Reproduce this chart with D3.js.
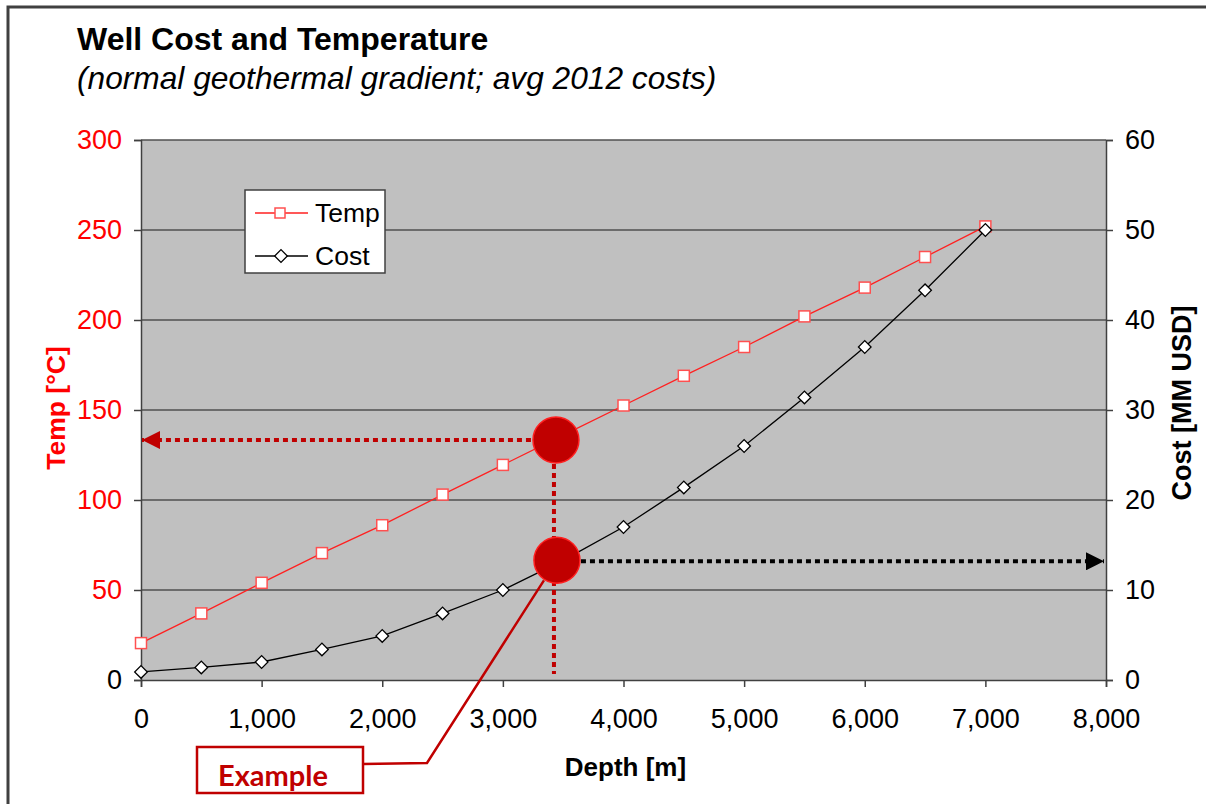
<!DOCTYPE html>
<html><head><meta charset="utf-8">
<script src="https://cdn.jsdelivr.net/npm/d3@7"></script>
<style>body{margin:0;background:#fff}svg{display:block}</style>
</head><body>
<svg id="c" width="1206" height="804"></svg>
<script>
const depths = [0,500,1000,1500,2000,2500,3000,3500,4000,4500,5000,5500,6000,6500,7000];
const temp = [20.5,37,54,70.5,86,103,119.5,136,152.5,169,185,202,218,235,252];
const cost = [0.9,1.4,2.0,3.4,4.9,7.4,10.0,13.3,17.0,21.4,26.0,31.4,37.0,43.3,50.0];
const xTicks = [0,1000,2000,3000,4000,5000,6000,7000,8000];
const tempTicks = [0,50,100,150,200,250,300];
const costTicks = [0,10,20,30,40,50,60];
const exampleDepth = 3440, exampleTemp = 133.3, exampleCost = 13.3;

const svg = d3.select("#c");
const L=141, R=1106, T=140, B=680;
const x = d3.scaleLinear().domain([0,8000]).range([L,R]);
const yT = d3.scaleLinear().domain([0,300]).range([B,T]);
const yC = d3.scaleLinear().domain([0,60]).range([B,T]);
const font = "'Liberation Sans', Arial, sans-serif";

// outer frame
svg.append("rect").attr("x",8).attr("y",7).attr("width",1210).attr("height",820)
  .attr("fill","none").attr("stroke","#404040").attr("stroke-width",3);

svg.append("text").attr("x",77).attr("y",50).attr("font-family",font).attr("font-weight","bold")
  .attr("font-size",32).attr("fill","#000").text("Well Cost and Temperature");
svg.append("text").attr("x",77).attr("y",89).attr("font-family",font).attr("font-style","italic")
  .attr("font-size",31.7).attr("fill","#000").text("(normal geothermal gradient; avg 2012 costs)");

// plot bg
svg.append("rect").attr("x",L).attr("y",T).attr("width",R-L).attr("height",B-T).attr("fill","#c0c0c0");
// gridlines
svg.append("g").selectAll("line").data(tempTicks.slice(1)).join("line")
  .attr("x1",L).attr("x2",R).attr("y1",d=>yT(d)).attr("y2",d=>yT(d))
  .attr("stroke","#505050").attr("stroke-width",1.5);

// axes
function styleAxis(g, col){
  g.selectAll(".domain").attr("stroke","#404040").attr("stroke-width",1.5);
  g.selectAll(".tick line").attr("stroke","#404040").attr("stroke-width",1.5);
  g.selectAll("text").attr("font-family",font).attr("font-size",27).attr("fill",col);
}
const gx = svg.append("g").attr("transform",`translate(0,${B})`)
  .call(d3.axisBottom(x).tickValues(xTicks).tickFormat(d3.format(",")).tickSizeOuter(0).tickSize(7).tickPadding(22));
styleAxis(gx,"#000");
const gl = svg.append("g").attr("transform",`translate(${L},0)`)
  .call(d3.axisLeft(yT).tickValues(tempTicks).tickSizeOuter(0).tickSize(7).tickPadding(12));
styleAxis(gl,"#ff0000");
gl.selectAll(".tick text").filter(d=>d===0).attr("fill","#000");
const gr = svg.append("g").attr("transform",`translate(${R},0)`)
  .call(d3.axisRight(yC).tickValues(costTicks).tickSizeOuter(0).tickSize(7).tickPadding(12));
styleAxis(gr,"#000");

// axis titles
svg.append("text").attr("x",x(4000)+2).attr("y",776).attr("text-anchor","middle")
  .attr("font-family",font).attr("font-weight","bold").attr("font-size",26).text("Depth [m]");
svg.append("text").attr("transform",`translate(65,${408}) rotate(-90)`).attr("text-anchor","middle")
  .attr("font-family",font).attr("font-weight","bold").attr("font-size",26.5).attr("fill","#ff0000").text("Temp [°C]");
svg.append("text").attr("transform",`translate(1191,${403}) rotate(-90)`).attr("text-anchor","middle")
  .attr("font-family",font).attr("font-weight","bold").attr("font-size",27).attr("fill","#000").text("Cost [MM USD]");

// series
const lineT = d3.line().x((d,i)=>x(depths[i])).y(d=>yT(d));
const lineC = d3.line().x((d,i)=>x(depths[i])).y(d=>yC(d));
svg.append("path").attr("d",lineT(temp)).attr("fill","none").attr("stroke","#ff2020").attr("stroke-width",1.3);
svg.append("path").attr("d",lineC(cost)).attr("fill","none").attr("stroke","#000").attr("stroke-width",1.3);
svg.append("g").selectAll("rect").data(temp).join("rect")
  .attr("x",(d,i)=>x(depths[i])-5.5).attr("y",d=>yT(d)-5.5).attr("width",11).attr("height",11)
  .attr("fill","#fff").attr("stroke","#ff5050").attr("stroke-width",1.5);
const dsym = d3.symbol().type(d3.symbolSquare).size(80);
svg.append("g").selectAll("path").data(cost).join("path")
  .attr("d",dsym).attr("transform",(d,i)=>`translate(${x(depths[i])},${yC(d)}) rotate(45)`)
  .attr("fill","#fff").attr("stroke","#000").attr("stroke-width",1.3);

// legend
const lg = svg.append("g");
lg.append("rect").attr("x",245).attr("y",190).attr("width",140).attr("height",83)
  .attr("fill","#fff").attr("stroke","#404040").attr("stroke-width",1.5);
lg.append("line").attr("x1",255).attr("x2",308).attr("y1",213).attr("y2",213).attr("stroke","#ff2020").attr("stroke-width",1.3);
lg.append("rect").attr("x",275).attr("y",208).attr("width",10).attr("height",10).attr("fill","#fff").attr("stroke","#ff5050").attr("stroke-width",1.5);
lg.append("line").attr("x1",255).attr("x2",308).attr("y1",256).attr("y2",256).attr("stroke","#000").attr("stroke-width",1.3);
lg.append("path").attr("d",dsym).attr("transform","translate(281,256) rotate(45)").attr("fill","#fff").attr("stroke","#000").attr("stroke-width",1.3);
lg.append("text").attr("x",315).attr("y",222).attr("font-family",font).attr("font-size",26.5).text("Temp");
lg.append("text").attr("x",315).attr("y",265).attr("font-family",font).attr("font-size",26.5).text("Cost");

// annotations
const dark = "#c00000";
const defs = svg.append("defs");
defs.append("marker").attr("id","arR").attr("viewBox","0 0 10 10").attr("refX",10).attr("refY",5)
  .attr("markerWidth",4.5).attr("markerHeight",4.5).attr("orient","auto").attr("markerUnits","strokeWidth")
  .append("path").attr("d","M0,0L10,5L0,10z").attr("fill",dark);
defs.append("marker").attr("id","arB").attr("viewBox","0 0 10 10").attr("refX",10).attr("refY",5)
  .attr("markerWidth",4.5).attr("markerHeight",4.5).attr("orient","auto").attr("markerUnits","strokeWidth")
  .append("path").attr("d","M0,0L10,5L0,10z").attr("fill","#000");
const ex = x(exampleDepth);
svg.append("line").attr("x1",ex-25).attr("x2",L+1).attr("y1",yT(exampleTemp)).attr("y2",yT(exampleTemp))
  .attr("stroke",dark).attr("stroke-width",4).attr("stroke-dasharray","5,4").attr("marker-end","url(#arR)");
svg.append("line").attr("x1",ex-2).attr("x2",ex-2).attr("y1",yT(exampleTemp)+24).attr("y2",B-6)
  .attr("stroke",dark).attr("stroke-width",4).attr("stroke-dasharray","5,4");
svg.append("line").attr("x1",ex+25).attr("x2",R-2).attr("y1",yC(exampleCost)+1).attr("y2",yC(exampleCost)+1)
  .attr("stroke","#000").attr("stroke-width",4).attr("stroke-dasharray","5,4").attr("marker-end","url(#arB)");
svg.append("circle").attr("cx",ex).attr("cy",yT(exampleTemp)).attr("r",23).attr("fill",dark).attr("stroke","#ff2020").attr("stroke-width",1.5);
svg.append("circle").attr("cx",ex+1).attr("cy",yC(exampleCost)).attr("r",23).attr("fill",dark).attr("stroke","#ff2020").attr("stroke-width",1.5);

// callout
svg.append("path").attr("d",`M363,764 L427,763 L${ex-12},${yC(exampleCost)+20}`)
  .attr("fill","none").attr("stroke",dark).attr("stroke-width",2.5);
svg.append("rect").attr("x",197).attr("y",747).attr("width",166).attr("height",46)
  .attr("fill","#fff").attr("stroke",dark).attr("stroke-width",2.5);
svg.append("text").attr("x",273).attr("y",786).attr("text-anchor","middle").attr("font-family","Lato, Carlito, sans-serif")
  .attr("font-weight","bold").attr("font-size",29).attr("fill",dark).text("Example");
</script>
</body></html>
